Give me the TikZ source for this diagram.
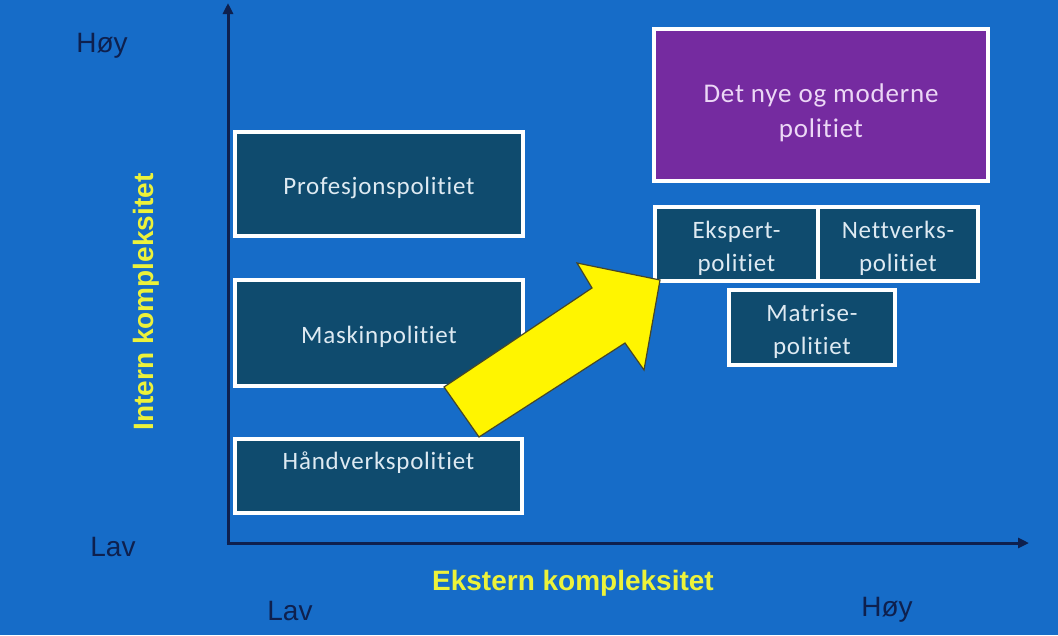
\documentclass[tikz,border=0pt]{standalone}
\usepackage{fontspec}
\setmainfont{Liberation Sans}
\newfontfamily\boxfont[LetterSpace=3,Ligatures=NoCommon]{Carlito}
\usetikzlibrary{arrows.meta}
\definecolor{bgblue}{RGB}{22,108,200}
\definecolor{boxfill}{RGB}{15,75,110}
\definecolor{boxtext}{RGB}{222,234,242}
\definecolor{purp}{RGB}{117,43,160}
\definecolor{purptext}{RGB}{236,216,246}
\definecolor{navy}{RGB}{14,32,78}
\definecolor{axtitle}{RGB}{236,242,58}
\definecolor{arrowyellow}{RGB}{255,245,0}
\newcommand{\liftline}[1]{\rule{0pt}{#1}}
\tikzset{
  polbox/.style={draw=white, line width=4pt, fill=boxfill, text=boxtext,
    font=\boxfont\fontsize{25}{33}\selectfont, align=center, inner sep=0pt},
  purpbox/.style={polbox, fill=purp, text=purptext,
    font=\boxfont\fontsize{27}{35}\selectfont},
  lowtext/.style={text height=27pt, text depth=5.5pt},
  level/.style={text=navy, font=\fontsize{28}{32}\selectfont, inner sep=0pt},
  axtitlestyle/.style={text=axtitle, font=\bfseries\fontsize{28}{32}\selectfont, inner sep=0pt},
  axisline/.style={draw=navy, line width=3pt, -{Triangle[length=11pt,width=10pt]}}
}
\begin{document}
\begin{tikzpicture}[x=1pt,y=-1pt]
\useasboundingbox (0,0) rectangle (1058,635);
\fill[bgblue] (0,0) rectangle (1058,635);

% axes
\coordinate (origin) at (228,543);
\coordinate (ytop) at (228,3);
\coordinate (xend) at (1029,543);
\draw[axisline] (origin) -- (ytop);
\draw[axisline] ([xshift=-1.5pt]origin) -- (xend);

% level labels
\node[level] (hoyY) at (102,46) {Høy};
\node[level] (lavY) at (113,547) {Lav};
\node[level] (lavX) at (290,611) {Lav};
\node[level] (hoyX) at (887,610) {Høy};

% axis titles
\node[axtitlestyle, rotate=90] (intern) at (146,302) {Intern kompleksitet};
\node[axtitlestyle] (ekstern) at (573,583) {Ekstern kompleksitet};

% left column boxes
\node[polbox, lowtext, minimum width=288pt, minimum height=104pt] (prof) at (379,184) {Profesjonspolitiet};
\node[polbox, lowtext, minimum width=288pt, minimum height=106pt] (mask) at (379,333) {Maskinpolitiet};
\node[polbox, minimum width=287pt, minimum height=74pt, text height=18pt, text depth=31pt] (hand) at (378.5,476) {Håndverkspolitiet};

% right boxes
\node[purpbox, minimum width=334pt, minimum height=152pt] (nye) at (821,105) {\liftline{34pt}Det nye og moderne\\politiet};
\node[polbox, minimum width=163pt, minimum height=74pt] (ekspert) at (736.5,244) {\liftline{27pt}Ekspert-\\politiet};
\node[polbox, minimum width=160pt, minimum height=74pt] (nett) at (898,244) {\liftline{27pt}Nettverks-\\politiet};
\node[polbox, minimum width=166pt, minimum height=75pt] (matrise) at (812,327.5) {\liftline{26pt}Matrise-\\politiet};

% big yellow arrow
\coordinate (tailA) at (444,387);
\coordinate (tailB) at (479,437);
\coordinate (neckB) at (625,343);
\coordinate (wingB) at (644,370);
\coordinate (tip) at (660,280);
\coordinate (wingA) at (577,263);
\coordinate (neckA) at (592,288);
\draw[fill=arrowyellow, draw={rgb,255:red,70;green,70;blue,40}, line width=1.2pt, line join=miter]
  (tailA) -- (neckA) -- (wingA) -- (tip) -- (wingB) -- (neckB) -- (tailB) -- cycle;
\end{tikzpicture}
\end{document}
